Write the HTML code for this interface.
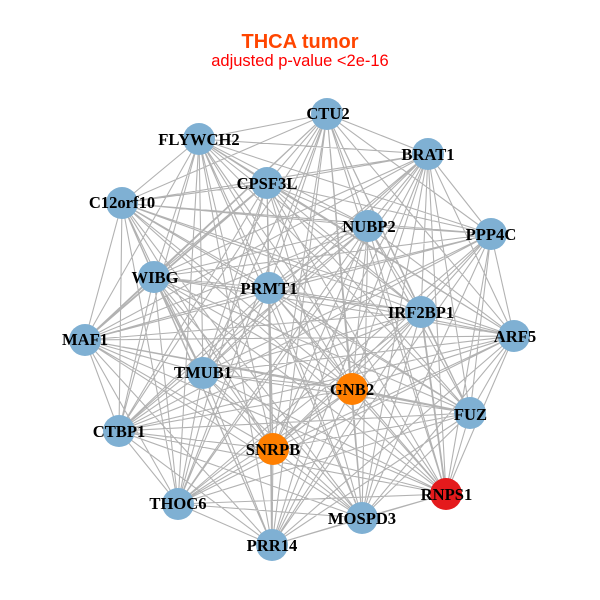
<!DOCTYPE html>
<html><head><meta charset="utf-8"><style>
html,body{margin:0;padding:0;background:#fff}
svg{display:block}
.n{font:bold 16.6px "Liberation Serif",serif;text-anchor:middle;fill:#000}
</style></head><body>
<svg width="600" height="600" viewBox="0 0 600 600" xmlns="http://www.w3.org/2000/svg">
<rect width="600" height="600" fill="#fff"/>
<path fill="none" stroke="#b2b2b2" stroke-width="1.1" d="
M327 114L428 154M327 114L491 234M327 114L514 336M327 114L470 413M327 114L446 494M327 114L362 518M327 114L272 545M327 114L178 504M327 114L119 431M327 114L85 340M327 114L154 277M327 114L122 203M327 114L199 139M327 114L267 183M327 114L368 226M327 114L269 288M327 114L421 312M327 114L352 389M327 114L273 449M327 114L203 373
M428 154L491 234M428 154L514 336M428 154L470 413M428 154L446 494M428 154L362 518M428 154L272 545M428 154L178 504M428 154L119 431M428 154L85 340M428 154L154 277M428 154L122 203M428 154L199 139M428 154L267 183M428 154L368 226M428 154L269 288M428 154L421 312M428 154L352 389M428 154L273 449M428 154L203 373
M491 234L514 336M491 234L470 413M491 234L446 494M491 234L362 518M491 234L272 545M491 234L178 504M491 234L119 431M491 234L85 340M491 234L154 277M491 234L122 203M491 234L199 139M491 234L267 183M491 234L368 226M491 234L269 288M491 234L421 312M491 234L352 389M491 234L273 449M491 234L203 373
M514 336L470 413M514 336L446 494M514 336L362 518M514 336L272 545M514 336L178 504M514 336L119 431M514 336L85 340M514 336L154 277M514 336L122 203M514 336L199 139M514 336L267 183M514 336L368 226M514 336L269 288M514 336L421 312M514 336L352 389M514 336L273 449M514 336L203 373
M470 413L446 494M470 413L362 518M470 413L272 545M470 413L178 504M470 413L119 431M470 413L85 340M470 413L154 277M470 413L122 203M470 413L199 139M470 413L267 183M470 413L368 226M470 413L269 288M470 413L421 312M470 413L352 389M470 413L273 449M470 413L203 373
M446 494L362 518M446 494L272 545M446 494L178 504M446 494L119 431M446 494L85 340M446 494L154 277M446 494L122 203M446 494L199 139M446 494L267 183M446 494L368 226M446 494L269 288M446 494L421 312M446 494L352 389M446 494L273 449M446 494L203 373
M362 518L272 545M362 518L178 504M362 518L119 431M362 518L85 340M362 518L154 277M362 518L122 203M362 518L199 139M362 518L267 183M362 518L368 226M362 518L269 288M362 518L421 312M362 518L352 389M362 518L273 449M362 518L203 373
M272 545L178 504M272 545L119 431M272 545L85 340M272 545L154 277M272 545L122 203M272 545L199 139M272 545L267 183M272 545L368 226M272 545L269 288M272 545L421 312M272 545L352 389M272 545L273 449M272 545L203 373
M178 504L119 431M178 504L85 340M178 504L154 277M178 504L122 203M178 504L199 139M178 504L267 183M178 504L368 226M178 504L269 288M178 504L421 312M178 504L352 389M178 504L273 449M178 504L203 373
M119 431L85 340M119 431L154 277M119 431L122 203M119 431L199 139M119 431L267 183M119 431L368 226M119 431L269 288M119 431L421 312M119 431L352 389M119 431L273 449M119 431L203 373
M85 340L154 277M85 340L122 203M85 340L199 139M85 340L267 183M85 340L368 226M85 340L269 288M85 340L421 312M85 340L352 389M85 340L273 449M85 340L203 373
M154 277L122 203M154 277L199 139M154 277L267 183M154 277L368 226M154 277L269 288M154 277L421 312M154 277L352 389M154 277L273 449M154 277L203 373
M122 203L199 139M122 203L267 183M122 203L368 226M122 203L269 288M122 203L421 312M122 203L352 389M122 203L273 449M122 203L203 373
M199 139L267 183M199 139L368 226M199 139L269 288M199 139L421 312M199 139L352 389M199 139L273 449M199 139L203 373
M267 183L368 226M267 183L269 288M267 183L421 312M267 183L352 389M267 183L273 449M267 183L203 373
M368 226L269 288M368 226L421 312M368 226L352 389M368 226L273 449M368 226L203 373
M269 288L421 312M269 288L352 389M269 288L273 449M269 288L203 373
M421 312L352 389M421 312L273 449M421 312L203 373
M352 389L273 449M352 389L203 373
M273 449L203 373"/>
<path fill="none" stroke="#b2b2b2" stroke-width="1.8" d="M269 288L272 545M267 183L85 340M352 389L470 413M421 312L446 494M154 277L203 373"/>
<g fill="#7fb0d3">
<circle cx="327" cy="114" r="16"/><circle cx="428" cy="154" r="16"/><circle cx="491" cy="234" r="16"/><circle cx="514" cy="336" r="16"/><circle cx="470" cy="413" r="16"/><circle cx="362" cy="518" r="16"/><circle cx="272" cy="545" r="16"/><circle cx="178" cy="504" r="16"/><circle cx="119" cy="431" r="16"/><circle cx="85" cy="340" r="16"/><circle cx="154" cy="277" r="16"/><circle cx="122" cy="203" r="16"/><circle cx="199" cy="139" r="16"/><circle cx="267" cy="183" r="16"/><circle cx="368" cy="226" r="16"/><circle cx="269" cy="288" r="16"/><circle cx="421" cy="312" r="16"/><circle cx="203" cy="373" r="16"/>
</g>
<circle cx="352" cy="389" r="16" fill="#ff7f00"/>
<circle cx="273" cy="449" r="16" fill="#ff7f00"/>
<circle cx="446" cy="494" r="16" fill="#e41a1c"/>
<g class="t">
<text class="n" x="328" y="119">CTU2</text>
<text class="n" x="428" y="160">BRAT1</text>
<text class="n" x="491" y="240">PPP4C</text>
<text class="n" x="515" y="342">ARF5</text>
<text class="n" x="470.5" y="420">FUZ</text>
<text class="n" x="446.5" y="500">RNPS1</text>
<text class="n" x="362" y="524">MOSPD3</text>
<text class="n" x="272" y="551">PRR14</text>
<text class="n" x="178" y="509">THOC6</text>
<text class="n" x="119" y="437">CTBP1</text>
<text class="n" x="85" y="345">MAF1</text>
<text class="n" x="155" y="283">WIBG</text>
<text class="n" x="122" y="208">C12orf10</text>
<text class="n" x="199" y="145">FLYWCH2</text>
<text class="n" x="267" y="189">CPSF3L</text>
<text class="n" x="369" y="232">NUBP2</text>
<text class="n" x="269" y="294">PRMT1</text>
<text class="n" x="421" y="318">IRF2BP1</text>
<text class="n" x="352" y="395">GNB2</text>
<text class="n" x="273" y="455">SNRPB</text>
<text class="n" x="203" y="378">TMUB1</text>
</g>
<text x="300" y="48" text-anchor="middle" font-family="Liberation Sans, sans-serif" font-weight="bold" font-size="20" fill="#ff4500">THCA tumor</text>
<text x="300" y="66" text-anchor="middle" font-family="Liberation Sans, sans-serif" font-size="16.5" fill="#ff0000">adjusted p-value &lt;2e-16</text>
</svg>
</body></html>
